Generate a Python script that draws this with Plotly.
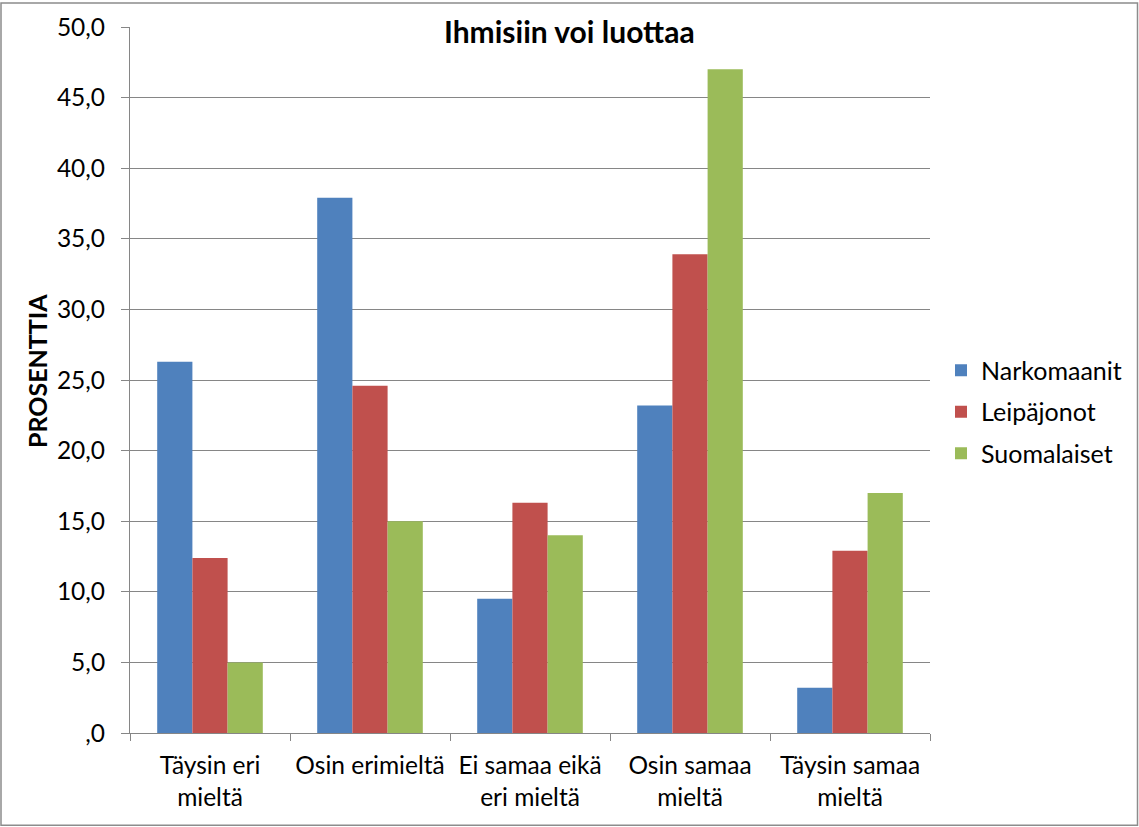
import plotly.graph_objects as go

categories = ["Täysin eri<br>mieltä", "Osin erimieltä", "Ei samaa eikä<br>eri mieltä",
              "Osin samaa<br>mieltä", "Täysin samaa<br>mieltä"]
narkomaanit = [26.3, 37.9, 9.5, 23.2, 3.2]
leipajonot = [12.4, 24.6, 16.3, 33.9, 12.9]
suomalaiset = [5.0, 15.0, 14.0, 47.0, 17.0]
series_names = ["Narkomaanit", "Leipäjonot", "Suomalaiset"]
colors = ["#4F81BD", "#C0504D", "#9BBB59"]
tick_vals = [0, 5, 10, 15, 20, 25, 30, 35, 40, 45, 50]
tick_text = [",0", "5,0", "10,0", "15,0", "20,0", "25,0", "30,0", "35,0", "40,0", "45,0", "50,0"]

FONT = "Lato, 'Open Sans', sans-serif"

fig = go.Figure()
for name, vals, col in zip(series_names, [narkomaanit, leipajonot, suomalaiset], colors):
    fig.add_trace(go.Bar(x=categories, y=vals, name=name, marker_color=col,
                         marker_line_width=0, legendgroup=name))

W, H = 1139, 827
L, R, T, B = 130, 209, 25, 94
pw, ph = W - L - R, H - T - B

def px(x):
    return (x - L) / pw

def py(y):
    return (H - B - y) / ph

fig.update_layout(
    width=W, height=H,
    margin=dict(l=L, r=R, t=T, b=B),
    paper_bgcolor="white", plot_bgcolor="white",
    font=dict(family=FONT, size=24, color="black"),
    barmode="group", bargap=0.34, bargroupgap=0,
    showlegend=True,
    legend=dict(x=px(941), y=py(411), xanchor="left", yanchor="middle",
                font=dict(size=25), traceorder="grouped", tracegroupgap=6,
                itemwidth=30, bgcolor="rgba(0,0,0,0)"),
    annotations=[
        dict(text="<b>Ihmisiin voi luottaa</b>", x=px(569), y=py(29),
             xref="paper", yref="paper", showarrow=False, xanchor="center",
             yanchor="middle", font=dict(size=30, family=FONT)),
        dict(text="<b>PROSENTTIA</b>", x=px(37), y=py(370), textangle=-90,
             xref="paper", yref="paper", showarrow=False, xanchor="center",
             yanchor="middle", font=dict(size=25, family=FONT)),
    ],
    shapes=[dict(type="rect", xref="paper", yref="paper",
                 x0=px(1), x1=px(W - 1.5), y0=py(H - 1.5), y1=py(1),
                 line=dict(color="#8c8c8c", width=1.5), layer="below")],
)
fig.update_xaxes(showline=True, linecolor="#868686", linewidth=1, ticks="outside",
                 tickson="boundaries", ticklen=7, tickcolor="#868686",
                 tickfont=dict(size=24.5), showgrid=False, ticklabelstandoff=11)
fig.update_yaxes(range=[0, 50], tickvals=tick_vals, ticktext=tick_text,
                 showline=True, linecolor="#868686", linewidth=1,
                 ticks="outside", ticklen=8, tickcolor="#868686",
                 showgrid=True, gridcolor="#868686", gridwidth=1,
                 tickfont=dict(size=24.5), zeroline=False, ticklabelstandoff=11)

fig.write_html("out.html", config={"displayModeBar": False},
               post_script="document.body.style.margin='0';")
